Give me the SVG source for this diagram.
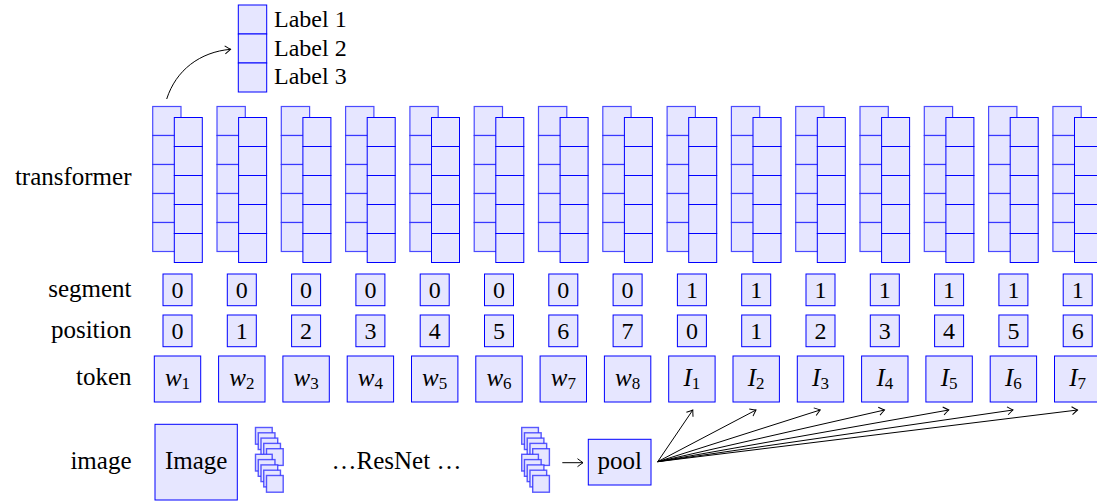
<svg xmlns="http://www.w3.org/2000/svg" xmlns:xlink="http://www.w3.org/1999/xlink" width="1097" height="501" viewBox="0 0 1097 501" font-family="'Liberation Serif', 'Times New Roman', serif">
<style>
text{font-family:'Liberation Serif','Times New Roman',serif;fill:#000}
.lbl{font-size:25px;text-anchor:end}
.num{font-size:24px;text-anchor:middle}
.tok{font-size:25px;text-anchor:middle}
.it{font-style:italic}
.sub{font-size:17px}
.box{fill:#e6e6ff;stroke:#0000ff;stroke-width:1}
.bk{fill:#e6e6ff;stroke:#2020ff;stroke-width:1.2;stroke-opacity:0.8}
.sq{fill:#e6e6ff;stroke:#3030ff;stroke-width:1.4;stroke-opacity:0.8}
.ar{fill:none;stroke:#000;stroke-width:1}
</style>
<defs>
<marker id="ah" markerUnits="userSpaceOnUse" markerWidth="12" markerHeight="12" viewBox="-8 -6 10 12" refX="0" refY="0" orient="auto">
<path d="M-5.5,-4 Q-1.5,-1 0,0 Q-1.5,1 -5.5,4" fill="none" stroke="#000" stroke-width="1"/>
</marker>
<g id="tf">
<rect class="bk" x="-24.8" y="106.5" width="28.3" height="29"/>
<rect class="bk" x="-24.8" y="135.5" width="28.3" height="29"/>
<rect class="bk" x="-24.8" y="164.5" width="28.3" height="29"/>
<rect class="bk" x="-24.8" y="193.5" width="28.3" height="29"/>
<rect class="bk" x="-24.8" y="222.5" width="28.3" height="29"/>
<rect class="box" x="-3.2" y="117.5" width="28" height="29"/>
<rect class="box" x="-3.2" y="146.5" width="28" height="29"/>
<rect class="box" x="-3.2" y="175.5" width="28" height="29"/>
<rect class="box" x="-3.2" y="204.5" width="28" height="29"/>
<rect class="box" x="-3.2" y="233.5" width="28" height="29"/>
</g>
<g id="rs">
<rect class="sq" x="0" y="0" width="16.7" height="16.7"/>
<rect class="sq" x="2.75" y="5.3" width="16.7" height="16.7"/>
<rect class="sq" x="5.5" y="10.6" width="16.7" height="16.7"/>
<rect class="sq" x="8.25" y="15.9" width="16.7" height="16.7"/>
<rect class="sq" x="11" y="21.2" width="16.7" height="16.7"/>
<rect class="sq" x="0" y="26.8" width="16.7" height="16.7"/>
<rect class="sq" x="2.75" y="32.1" width="16.7" height="16.7"/>
<rect class="sq" x="5.5" y="37.4" width="16.7" height="16.7"/>
<rect class="sq" x="8.25" y="42.7" width="16.7" height="16.7"/>
<rect class="sq" x="11" y="48" width="16.7" height="16.7"/>
</g>
</defs>

<g id="row-labels">
<text class="lbl" x="131.5" y="185">transformer</text>
<text class="lbl" x="131.5" y="297">segment</text>
<text class="lbl" x="131.5" y="338">position</text>
<text class="lbl" x="131.5" y="385">token</text>
<text class="lbl" x="131.5" y="469">image</text>
</g>

<g id="legend">
<rect class="box" x="238.3" y="5" width="28.4" height="29"/>
<rect class="box" x="238.3" y="34" width="28.4" height="29"/>
<rect class="box" x="238.3" y="63" width="28.4" height="29"/>
<text x="274" y="27" font-size="24">Label 1</text>
<text x="274" y="55.5" font-size="24">Label 2</text>
<text x="274" y="84" font-size="24">Label 3</text>
</g>

<g id="transformer">
<use xlink:href="#tf" href="#tf" x="177.5"/>
<use xlink:href="#tf" href="#tf" x="241.8"/>
<use xlink:href="#tf" href="#tf" x="306.1"/>
<use xlink:href="#tf" href="#tf" x="370.4"/>
<use xlink:href="#tf" href="#tf" x="434.7"/>
<use xlink:href="#tf" href="#tf" x="499"/>
<use xlink:href="#tf" href="#tf" x="563.3"/>
<use xlink:href="#tf" href="#tf" x="627.6"/>
<use xlink:href="#tf" href="#tf" x="691.9"/>
<use xlink:href="#tf" href="#tf" x="756.2"/>
<use xlink:href="#tf" href="#tf" x="820.5"/>
<use xlink:href="#tf" href="#tf" x="884.8"/>
<use xlink:href="#tf" href="#tf" x="949.1"/>
<use xlink:href="#tf" href="#tf" x="1013.4"/>
<use xlink:href="#tf" href="#tf" x="1077.7"/>
</g>

<g id="segment">
<rect class="box" x="163" y="274" width="29" height="31.7"/><text class="num" x="177.5" y="298.3">0</text>
<rect class="box" x="227.3" y="274" width="29" height="31.7"/><text class="num" x="241.8" y="298.3">0</text>
<rect class="box" x="291.6" y="274" width="29" height="31.7"/><text class="num" x="306.1" y="298.3">0</text>
<rect class="box" x="355.9" y="274" width="29" height="31.7"/><text class="num" x="370.4" y="298.3">0</text>
<rect class="box" x="420.2" y="274" width="29" height="31.7"/><text class="num" x="434.7" y="298.3">0</text>
<rect class="box" x="484.5" y="274" width="29" height="31.7"/><text class="num" x="499" y="298.3">0</text>
<rect class="box" x="548.8" y="274" width="29" height="31.7"/><text class="num" x="563.3" y="298.3">0</text>
<rect class="box" x="613.1" y="274" width="29" height="31.7"/><text class="num" x="627.6" y="298.3">0</text>
<rect class="box" x="677.4" y="274" width="29" height="31.7"/><text class="num" x="691.9" y="298.3">1</text>
<rect class="box" x="741.7" y="274" width="29" height="31.7"/><text class="num" x="756.2" y="298.3">1</text>
<rect class="box" x="806" y="274" width="29" height="31.7"/><text class="num" x="820.5" y="298.3">1</text>
<rect class="box" x="870.3" y="274" width="29" height="31.7"/><text class="num" x="884.8" y="298.3">1</text>
<rect class="box" x="934.6" y="274" width="29" height="31.7"/><text class="num" x="949.1" y="298.3">1</text>
<rect class="box" x="998.9" y="274" width="29" height="31.7"/><text class="num" x="1013.4" y="298.3">1</text>
<rect class="box" x="1063.2" y="274" width="29" height="31.7"/><text class="num" x="1077.7" y="298.3">1</text>
</g>

<g id="position">
<rect class="box" x="163" y="315" width="29" height="31.7"/><text class="num" x="177.5" y="339.3">0</text>
<rect class="box" x="227.3" y="315" width="29" height="31.7"/><text class="num" x="241.8" y="339.3">1</text>
<rect class="box" x="291.6" y="315" width="29" height="31.7"/><text class="num" x="306.1" y="339.3">2</text>
<rect class="box" x="355.9" y="315" width="29" height="31.7"/><text class="num" x="370.4" y="339.3">3</text>
<rect class="box" x="420.2" y="315" width="29" height="31.7"/><text class="num" x="434.7" y="339.3">4</text>
<rect class="box" x="484.5" y="315" width="29" height="31.7"/><text class="num" x="499" y="339.3">5</text>
<rect class="box" x="548.8" y="315" width="29" height="31.7"/><text class="num" x="563.3" y="339.3">6</text>
<rect class="box" x="613.1" y="315" width="29" height="31.7"/><text class="num" x="627.6" y="339.3">7</text>
<rect class="box" x="677.4" y="315" width="29" height="31.7"/><text class="num" x="691.9" y="339.3">0</text>
<rect class="box" x="741.7" y="315" width="29" height="31.7"/><text class="num" x="756.2" y="339.3">1</text>
<rect class="box" x="806" y="315" width="29" height="31.7"/><text class="num" x="820.5" y="339.3">2</text>
<rect class="box" x="870.3" y="315" width="29" height="31.7"/><text class="num" x="884.8" y="339.3">3</text>
<rect class="box" x="934.6" y="315" width="29" height="31.7"/><text class="num" x="949.1" y="339.3">4</text>
<rect class="box" x="998.9" y="315" width="29" height="31.7"/><text class="num" x="1013.4" y="339.3">5</text>
<rect class="box" x="1063.2" y="315" width="29" height="31.7"/><text class="num" x="1077.7" y="339.3">6</text>
</g>

<g id="token">
<g id="tok-w1"><rect class="box" x="154.3" y="356" width="46.4" height="46"/><text class="tok" x="177.5" y="385.5"><tspan class="it">w</tspan><tspan class="sub" dy="3">1</tspan></text></g>
<g id="tok-w2"><rect class="box" x="218.6" y="356" width="46.4" height="46"/><text class="tok" x="241.8" y="385.5"><tspan class="it">w</tspan><tspan class="sub" dy="3">2</tspan></text></g>
<g id="tok-w3"><rect class="box" x="282.9" y="356" width="46.4" height="46"/><text class="tok" x="306.1" y="385.5"><tspan class="it">w</tspan><tspan class="sub" dy="3">3</tspan></text></g>
<g id="tok-w4"><rect class="box" x="347.2" y="356" width="46.4" height="46"/><text class="tok" x="370.4" y="385.5"><tspan class="it">w</tspan><tspan class="sub" dy="3">4</tspan></text></g>
<g id="tok-w5"><rect class="box" x="411.5" y="356" width="46.4" height="46"/><text class="tok" x="434.7" y="385.5"><tspan class="it">w</tspan><tspan class="sub" dy="3">5</tspan></text></g>
<g id="tok-w6"><rect class="box" x="475.8" y="356" width="46.4" height="46"/><text class="tok" x="499" y="385.5"><tspan class="it">w</tspan><tspan class="sub" dy="3">6</tspan></text></g>
<g id="tok-w7"><rect class="box" x="540.1" y="356" width="46.4" height="46"/><text class="tok" x="563.3" y="385.5"><tspan class="it">w</tspan><tspan class="sub" dy="3">7</tspan></text></g>
<g id="tok-w8"><rect class="box" x="604.4" y="356" width="46.4" height="46"/><text class="tok" x="627.6" y="385.5"><tspan class="it">w</tspan><tspan class="sub" dy="3">8</tspan></text></g>
<g id="tok-I1"><rect class="box" x="668.7" y="356" width="46.4" height="46"/><text class="tok" x="691.9" y="385.5"><tspan class="it">I</tspan><tspan class="sub" dy="3">1</tspan></text></g>
<g id="tok-I2"><rect class="box" x="733" y="356" width="46.4" height="46"/><text class="tok" x="756.2" y="385.5"><tspan class="it">I</tspan><tspan class="sub" dy="3">2</tspan></text></g>
<g id="tok-I3"><rect class="box" x="797.3" y="356" width="46.4" height="46"/><text class="tok" x="820.5" y="385.5"><tspan class="it">I</tspan><tspan class="sub" dy="3">3</tspan></text></g>
<g id="tok-I4"><rect class="box" x="861.6" y="356" width="46.4" height="46"/><text class="tok" x="884.8" y="385.5"><tspan class="it">I</tspan><tspan class="sub" dy="3">4</tspan></text></g>
<g id="tok-I5"><rect class="box" x="925.9" y="356" width="46.4" height="46"/><text class="tok" x="949.1" y="385.5"><tspan class="it">I</tspan><tspan class="sub" dy="3">5</tspan></text></g>
<g id="tok-I6"><rect class="box" x="990.2" y="356" width="46.4" height="46"/><text class="tok" x="1013.4" y="385.5"><tspan class="it">I</tspan><tspan class="sub" dy="3">6</tspan></text></g>
<g id="tok-I7"><rect class="box" x="1054.5" y="356" width="46.4" height="46"/><text class="tok" x="1077.7" y="385.5"><tspan class="it">I</tspan><tspan class="sub" dy="3">7</tspan></text></g>
</g>

<g id="image-node">
<rect class="box" x="155" y="424.3" width="82.3" height="75.7"/>
<text class="tok" x="196.2" y="469">Image</text>
</g>

<g id="resnet-1"><use xlink:href="#rs" href="#rs" x="255.5" y="427.5"/></g>
<g id="resnet-label"><text class="tok" x="396.5" y="469">…ResNet …</text></g>
<g id="resnet-2"><use xlink:href="#rs" href="#rs" x="521.7" y="427.5"/></g>

<g id="pool-node">
<rect class="box" x="588.3" y="439.3" width="62.7" height="45.7"/>
<text class="tok" x="619.7" y="469">pool</text>
</g>

<g id="connectors">
<path class="ar" d="M166.7,99 C176,70 200,52 230.5,49.3" marker-end="url(#ah)"/>
<path class="ar" d="M562.3,462.7 L583,462.7" marker-end="url(#ah)"/>
<path class="ar" d="M657.7,461.7 L692.8,410" marker-end="url(#ah)"/>
<path class="ar" d="M657.7,461.7 L756,410" marker-end="url(#ah)"/>
<path class="ar" d="M657.7,461.7 L820.2,410" marker-end="url(#ah)"/>
<path class="ar" d="M657.7,461.7 L884.5,410" marker-end="url(#ah)"/>
<path class="ar" d="M657.7,461.7 L948.8,410" marker-end="url(#ah)"/>
<path class="ar" d="M657.7,461.7 L1013,410" marker-end="url(#ah)"/>
<path class="ar" d="M657.7,461.7 L1077.5,410" marker-end="url(#ah)"/>
</g>
</svg>
